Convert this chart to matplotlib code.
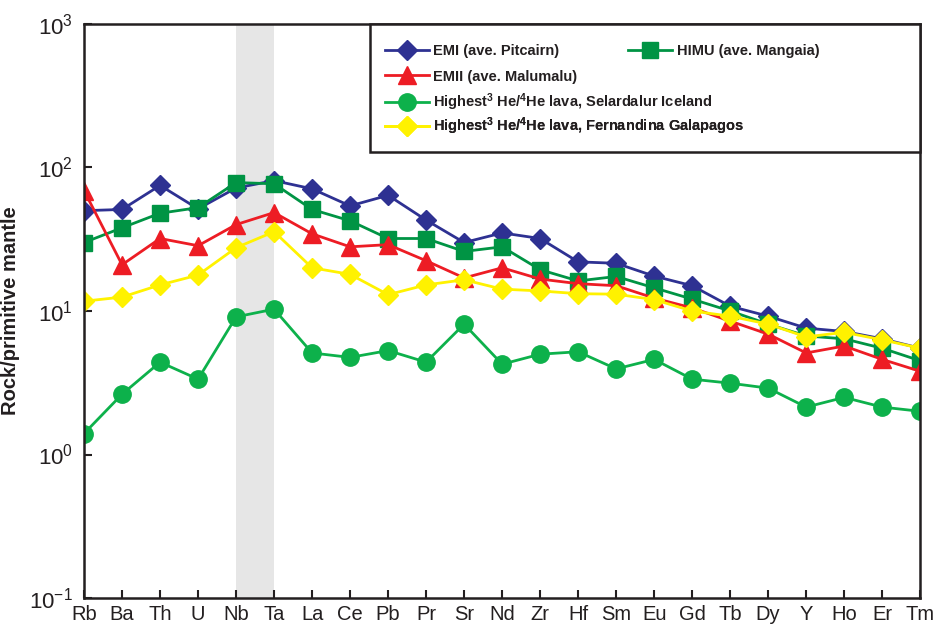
import matplotlib
matplotlib.use("Agg")
import matplotlib.pyplot as plt
from matplotlib.lines import Line2D
from matplotlib.patches import Rectangle
import numpy as np

plt.rcParams['font.family'] = ['Liberation Sans', 'DejaVu Sans']
plt.rcParams['mathtext.fontset'] = 'custom'
plt.rcParams['mathtext.rm'] = 'Liberation Sans'
plt.rcParams['mathtext.it'] = 'Liberation Sans:italic'
plt.rcParams['mathtext.bf'] = 'Liberation Sans:bold'

elements = ["Rb", "Ba", "Th", "U", "Nb", "Ta", "La", "Ce", "Pb", "Pr", "Sr", "Nd",
            "Zr", "Hf", "Sm", "Eu", "Gd", "Tb", "Dy", "Y", "Ho", "Er", "Tm"]

emi_pitcairn = [50, 51, 75, 51.5, 72, 81, 71, 54, 64, 43, 30, 35,
                32, 22, 21.5, 17.5, 15, 10.8, 9.2, 7.6, 7.2, 6.4, 5.5]
emii_malumalu = [69, 21, 32, 28.5, 40, 48.5, 34.5, 28, 29, 22.4, 17, 20,
                 16.7, 15.5, 15, 12.3, 10.5, 8.5, 6.9, 5.1, 5.7, 4.6, 3.8]
himu_mangaia = [30, 38, 48, 52.5, 78.5, 77, 51, 42.5, 32, 32, 26, 28,
                19.4, 16.2, 17.4, 14.5, 12.1, 10, 8.1, 6.7, 6.4, 5.5, 4.5]
selardalur = [1.4, 2.63, 4.4, 3.35, 9.1, 10.3, 5.1, 4.75, 5.3, 4.4, 8.1, 4.26,
              5.0, 5.2, 3.95, 4.6, 3.35, 3.14, 2.9, 2.14, 2.5, 2.14, 2.0]
fernandina = [11.7, 12.5, 15.2, 17.8, 27.6, 35.7, 20, 18, 13, 15.2, 16.5, 14.2,
              13.8, 13.2, 13.1, 12, 10, 9.2, 8.1, 6.6, 7.1, 6.3, 5.5]

BLUE = "#2e3192"
RED = "#ed1c24"
DKGREEN = "#009444"
GREEN = "#0db14b"
YELLOW = "#fff200"
INK = "#231f20"

fig = plt.figure(figsize=(9.39, 6.26), dpi=100)
ax = fig.add_axes([0.0895, 0.0447, 0.8905, 0.917])

x = np.arange(len(elements))

# Nb-Ta band
ax.axvspan(4, 5, color="#e6e6e6", zorder=0, lw=0)

lw = 2.0
ax.plot(x, selardalur, color=GREEN, lw=lw, marker="o", ms=12.5, mec=GREEN, zorder=3)
ax.plot(x, emi_pitcairn, color=BLUE, lw=lw, marker="D", ms=10, mec=BLUE, zorder=4)
ax.plot(x, himu_mangaia, color=DKGREEN, lw=lw, marker="s", ms=12, mec=DKGREEN, zorder=5)
ax.plot(x, emii_malumalu, color=RED, lw=lw, marker="^", ms=13, mec=RED, zorder=6)
ax.plot(x, fernandina, color=YELLOW, lw=lw, marker="D", ms=10, mec=YELLOW, zorder=7)

ax.set_yscale("log")
ax.set_ylim(0.1, 1000)
ax.set_xlim(0, 22)
ax.set_xticks(x)
ax.set_xticklabels(elements, fontsize=14.5)
ax.yaxis.set_minor_locator(matplotlib.ticker.NullLocator())
ax.set_yticks([0.1, 1, 10, 100, 1000])
ax.tick_params(axis="both", direction="in", length=6, width=1.5, color=INK, labelcolor=INK)
ax.tick_params(axis="x", pad=5)
ax.tick_params(axis="y", labelsize=16, pad=8)
for s in ax.spines.values():
    s.set_linewidth(1.8)
    s.set_color(INK)
    s.set_zorder(10)

ax.set_ylabel("Rock/primitive mantle", fontsize=14.5, fontweight="bold", color=INK)
ax.yaxis.set_label_coords(-0.0766, 0.5)

# legend box in the upper right corner
ax.add_patch(Rectangle((0.342, 0.777), 0.658, 0.223, transform=ax.transAxes,
                       facecolor="white", edgecolor=INK, lw=1.8, zorder=11, clip_on=False))

def handle(color, marker, ms):
    return Line2D([], [], color=color, lw=lw, marker=marker, ms=ms, mec=color)

sup3 = r"$^{\mathbf{3}}$"
sup4 = r"$^{\mathbf{4}}$"
entries = [
    (handle(BLUE, "D", 10), "EMI (ave. Pitcairn)", 0.360, 0.9530),
    (handle(DKGREEN, "s", 12), "HIMU (ave. Mangaia)", 0.651, 0.9530),
    (handle(RED, "^", 13), "EMII (ave. Malumalu)", 0.360, 0.9085),
    (handle(GREEN, "o", 12.5),
     "Highest" + sup3 + " He/" + sup4 + "He lava, Selardalur Iceland", 0.360, 0.8640),
    (handle(YELLOW, "D", 10),
     "Highest" + sup3 + " He/" + sup4 + "He lava, Fernandina Galapagos", 0.360, 0.8220),
]
leg_kw = dict(frameon=False, handlelength=3.0, handletextpad=0.3, borderpad=0,
              borderaxespad=0, prop={"size": 10.5, "weight": "bold"}, labelcolor=INK)
for h, lab, lx, ly in entries:
    leg = ax.legend([h], [lab], loc="center left", bbox_to_anchor=(lx, ly), **leg_kw)
    leg.set_zorder(12)
    ax.add_artist(leg)

fig.savefig("out.png", dpi=100)
